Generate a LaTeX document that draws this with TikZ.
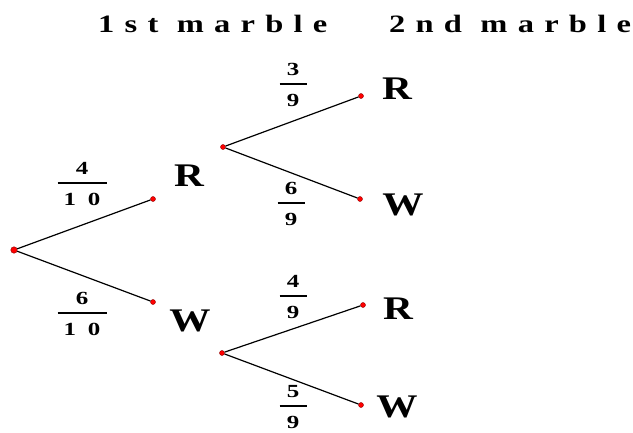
\documentclass[tikz,border=0pt]{standalone}
\usepackage{fontspec}
\setmainfont{Liberation Serif}
\newfontfamily\headfont[FakeStretch=1.3,LetterSpace=41]{Liberation Serif Bold}
\newfontfamily\leaffont[FakeStretch=1.25]{Liberation Serif Bold}
\newfontfamily\fracfont[FakeStretch=1.35,LetterSpace=30]{Liberation Serif Bold}
\usetikzlibrary{positioning}

% fraction: numerator, denominator, bar width (pt)
\newcommand{\prob}[3]{%
  \rlap{\raisebox{9pt}{\makebox[#3pt]{#1}}}%
  \rlap{\raisebox{-22pt}{\makebox[#3pt]{#2}}}%
  \rule[-0.7pt]{#3pt}{1.4pt}}

\begin{document}
\begin{tikzpicture}[
    x=1pt, y=-1pt,
    dot/.style={circle, fill=red, draw=red!55!black, line width=0.4pt,
      inner sep=0pt, minimum size=5pt},
    leaf/.style={font=\leaffont\fontsize{33}{33}\selectfont, inner sep=0pt},
    head/.style={font=\headfont\fontsize{25}{25}\selectfont,
      inner sep=0pt, anchor=base west},
    prob/.style={font=\fracfont\fontsize{18.5}{18.5}\selectfont,
      inner sep=0pt, anchor=base},
    branch/.style={line width=1.2pt, black}
  ]
    \useasboundingbox (0,0) rectangle (633,432);

    % Headings
    \node[head] (first) at (98,32) {1st marble};
    \node[head] (second) at (389,32) {2nd marble};

    % Dots
    \node[dot, minimum size=6.5pt] (root) at (14,250) {};
    \node[dot] (r1) at (153,199) {};
    \node[dot] (w1) at (153,302) {};
    \node[dot] (rb) at (223,147) {};
    \node[dot] (wb) at (222,353) {};
    \node[dot] (rr) at (361,96) {};
    \node[dot] (rw) at (360,199) {};
    \node[dot] (wr) at (363,305) {};
    \node[dot] (ww) at (361,405) {};

    % Outcomes
    \node[leaf] (r1lab) at (189,176) {R};
    \node[leaf] (w1lab) at (190,321) {W};
    \node[leaf] (rrlab) at (397,89) {R};
    \node[leaf] (rwlab) at (403,205) {W};
    \node[leaf] (wrlab) at (398,309) {R};
    \node[leaf] (wwlab) at (397,407) {W};

    % Probabilities
    \node[prob] (p1) at (82,183) {\prob{4}{1 0}{49}};
    \node[prob] (p2) at (82,313) {\prob{6}{1 0}{49}};
    \node[prob] (p3) at (293,84) {\prob{3}{9}{27}};
    \node[prob] (p4) at (291,203) {\prob{6}{9}{27}};
    \node[prob] (p5) at (293,296) {\prob{4}{9}{27}};
    \node[prob] (p6) at (293,406) {\prob{5}{9}{27}};

    % Branches
    \draw[branch] (root) -- (r1);
    \draw[branch] (root) -- (w1);
    \draw[branch] (rb) -- (rr);
    \draw[branch] (rb) -- (rw);
    \draw[branch] (wb) -- (wr);
    \draw[branch] (wb) -- (ww);
\end{tikzpicture}
\end{document}
